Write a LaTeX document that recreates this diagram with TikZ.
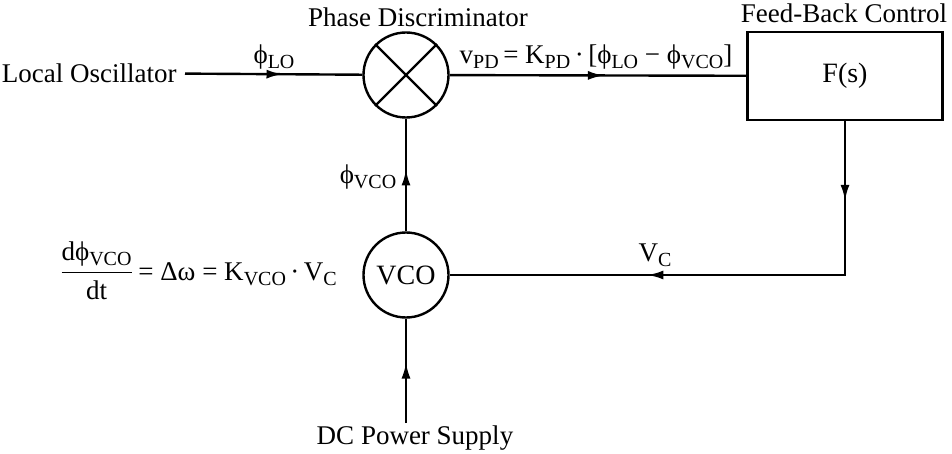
\documentclass[tikz,border=0pt]{standalone}
\usepackage{fontspec}
\usepackage{amsmath}
\setmainfont{Liberation Serif}
\usetikzlibrary{arrows.meta}
\usetikzlibrary{decorations.markings}
\tikzset{
  sumador/.style={
    circle, draw, line width=1.2pt, minimum size=42.5pt, inner sep=0pt
  },
  bloque/.style={
    rectangle, draw, line width=1.2pt, minimum width=97.5pt, minimum height=44pt,
    inner sep=0pt
  },
  etiqueta/.style={font=\fontsize{13.5}{16}\selectfont, inner sep=1pt},
  linea/.style={line width=1.2pt},
  flechamedia/.style={
    postaction={decorate},
    decoration={markings, mark=at position #1 with {\arrow{Latex[length=8pt,width=4.5pt]}}}
  },
  flechadoble/.style 2 args={
    postaction={decorate},
    decoration={markings,
      mark=at position #1 with {\arrow{Latex[length=8pt,width=4.5pt]}},
      mark=at position #2 with {\arrow{Latex[length=8pt,width=4.5pt]}}}
  }
}
\newcommand{\sbi}[1]{\raisebox{-0.4ex}{\fontsize{10}{11}\selectfont #1}}

\begin{document}
\begin{tikzpicture}[x=0.5pt, y=-0.5pt, every node/.style={etiqueta}]
  \useasboundingbox (0,0) rectangle (952,454);

  % Bloques principales
  \node[sumador] (pd) at (406,75) {};
  \draw[linea] (pd.45) -- (pd.225);
  \draw[linea] (pd.135) -- (pd.315);
  \node[sumador, font=\fontsize{14}{16}\selectfont] (vco) at (406,275) {VCO};
  \node[bloque, font=\fontsize{14}{16}\selectfont] (fb) at (845,76) {F(s)};

  % Textos
  \node[anchor=east, inner sep=4pt] (lo) at (185,73) {Local Oscillator};
  \node (pdt) at (418,17) {Phase Discriminator};
  \node (fbt) at (844,13) {Feed-Back Control};
  \node[anchor=north] (dc) at (415,423) {DC Power Supply};

  % Etiquetas de senal
  \node (philo) at (274,57) {ϕ\sbi{LO}};
  \node (vpd) at (596,57) {v\sbi{PD}\,= K\sbi{PD}\,·\,[ϕ\sbi{LO} − ϕ\sbi{VCO}]};
  \node (phivco) at (368,177) {ϕ\sbi{VCO}};
  \node (vc) at (655,255) {V\sbi{C}};
  \node (ecu) at (198,271)
    {$\dfrac{\text{dϕ\sbi{VCO}}}{\text{dt}}$\,= Δω = K\sbi{VCO}\,·\,V\sbi{C}};

  % Conexiones
  \draw[linea, flechamedia=0.55] (lo) -- (pd);
  \draw[linea, flechamedia=0.52] (pd) -- (fb);
  \draw[linea, flechamedia=0.55] (vco) -- (pd);
  \draw[linea, flechadoble={0.145}{0.64}] (fb.south) |- (vco);
  \draw[linea, flechamedia=0.58] (vco |- dc.north) -- (vco);
\end{tikzpicture}
\end{document}
